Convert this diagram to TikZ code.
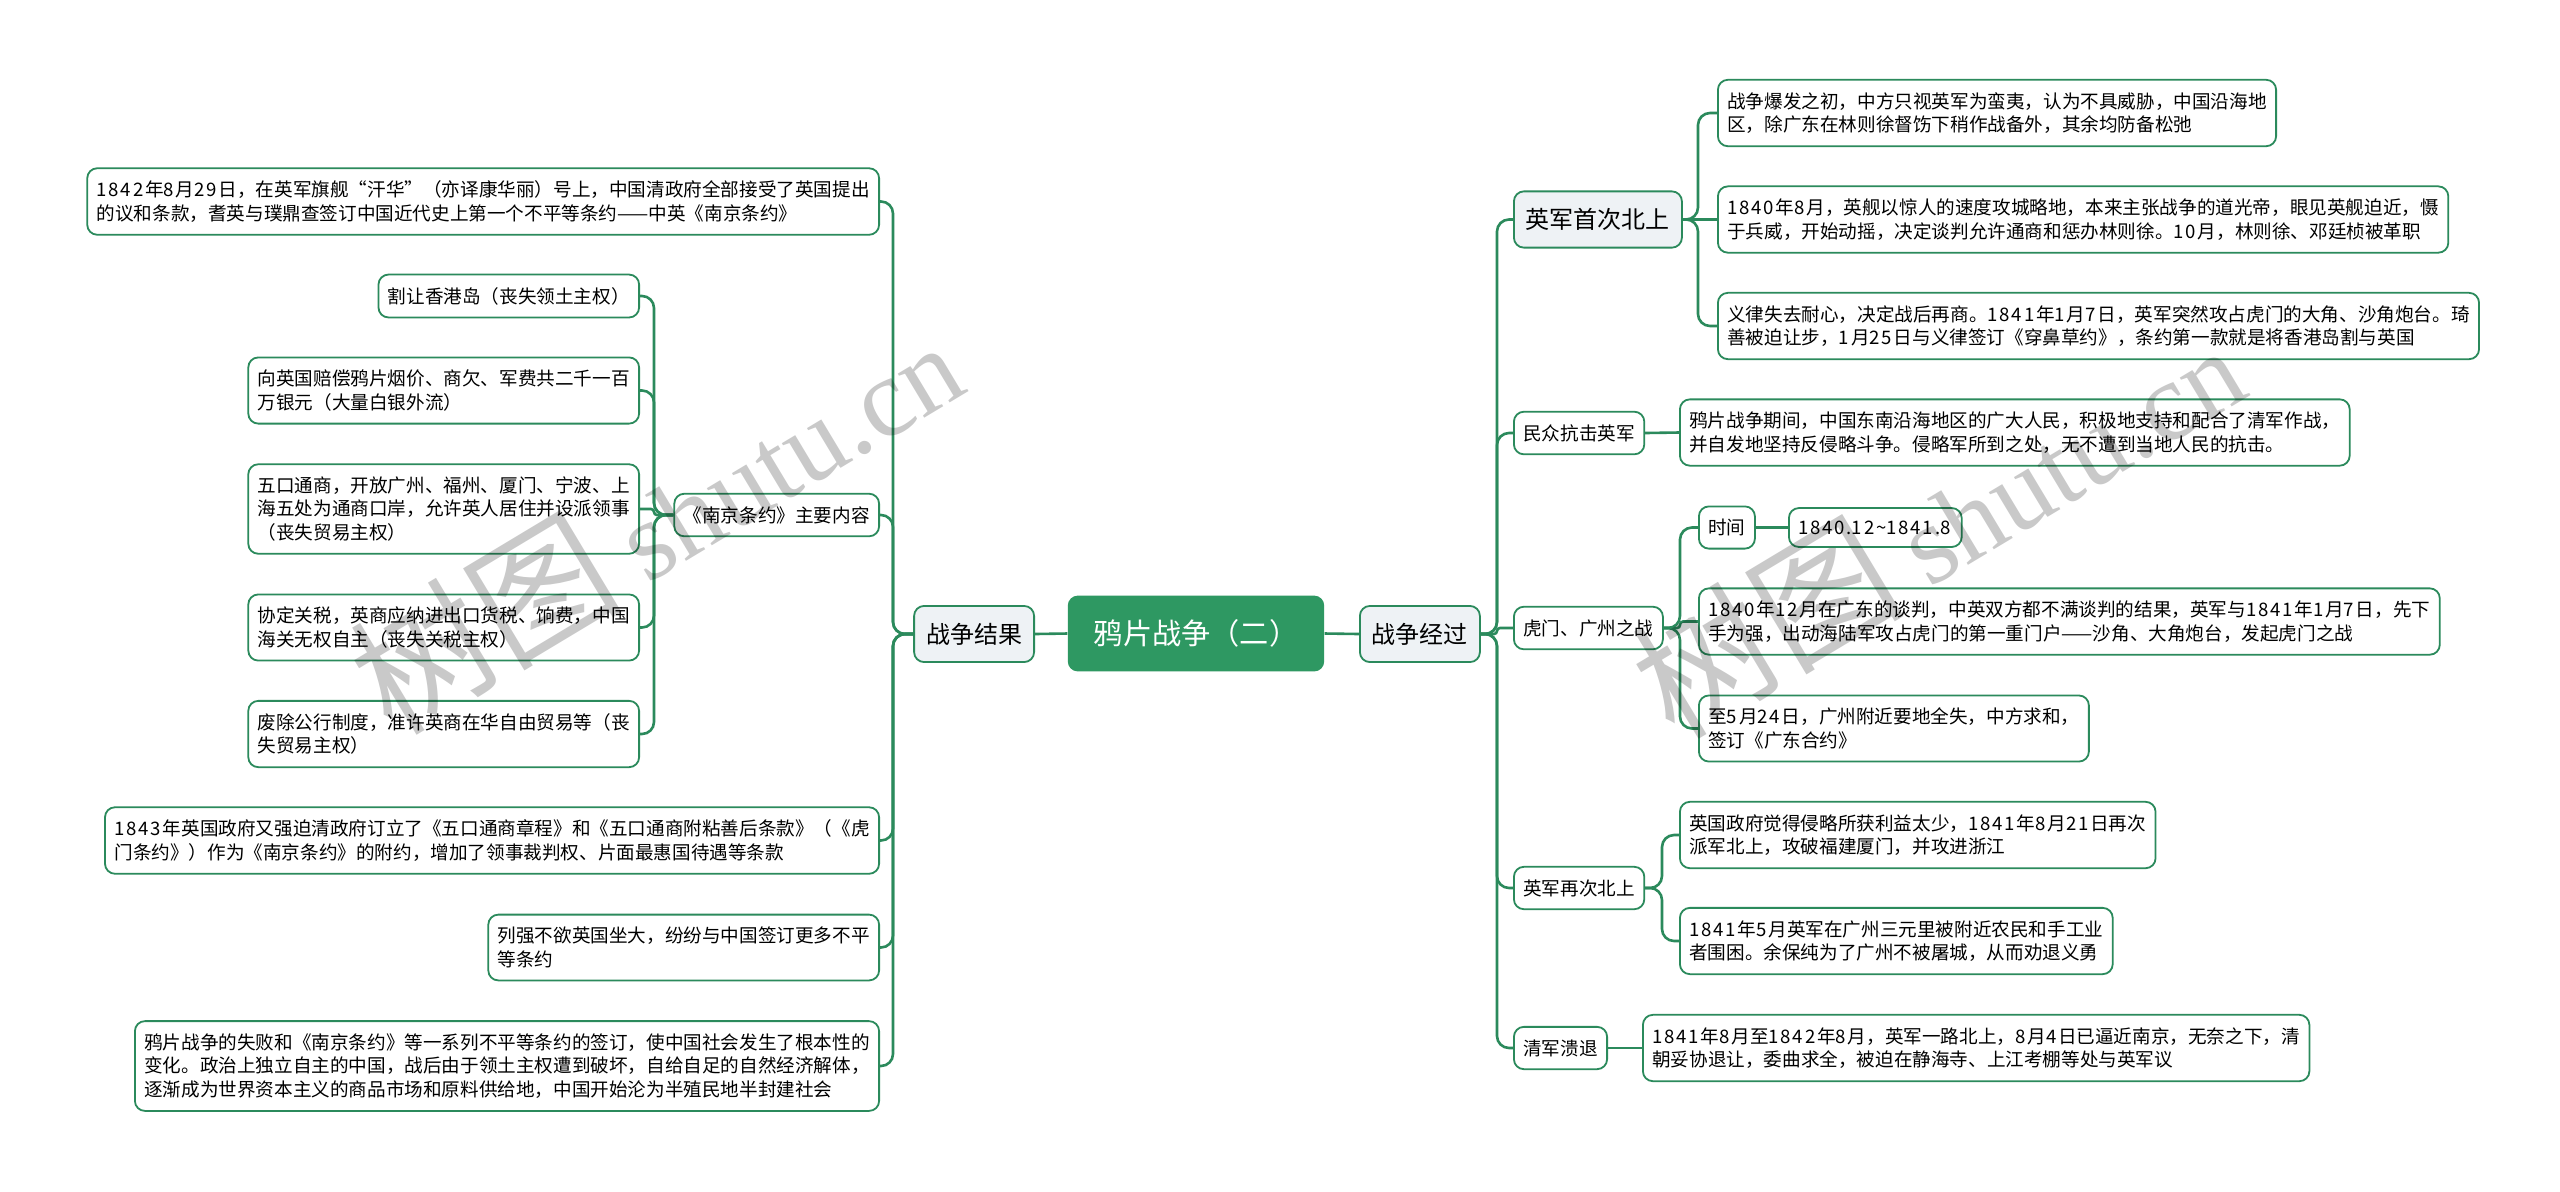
\documentclass[tikz,border=0pt]{standalone}
\usepackage{fontspec}
\setmainfont{Noto Sans CJK SC}
\newfontfamily\wmlatin{Liberation Serif}
\definecolor{mapgreen}{HTML}{2B8A5C}
\definecolor{rootgreen}{HTML}{2E9862}
\definecolor{mainfill}{HTML}{EEF2F5}
\newcommand\bodysize{\fontsize{9.3pt}{11.7pt}\selectfont}
\newcommand\mainsize{\fontsize{12pt}{14pt}\selectfont}
\newcommand\rootsize{\fontsize{14.6pt}{17pt}\selectfont}
% digits a little wider, as in the map
\XeTeXinterchartokenstate=1
\newXeTeXintercharclass\digitclass
\XeTeXcharclass`\0=\digitclass \XeTeXcharclass`\1=\digitclass \XeTeXcharclass`\2=\digitclass
\XeTeXcharclass`\3=\digitclass \XeTeXcharclass`\4=\digitclass \XeTeXcharclass`\5=\digitclass
\XeTeXcharclass`\6=\digitclass \XeTeXcharclass`\7=\digitclass \XeTeXcharclass`\8=\digitclass
\XeTeXcharclass`\9=\digitclass
\XeTeXinterchartoks\digitclass 0={\kern0.9pt}
\XeTeXinterchartoks\digitclass 1={\kern0.9pt}
\XeTeXinterchartoks\digitclass 2={\kern0.9pt}
\XeTeXinterchartoks\digitclass 3={\kern0.9pt}
\XeTeXinterchartoks\digitclass\digitclass={\kern0.9pt}
\XeTeXinterchartoks\digitclass 4095={\kern0.9pt}
\begin{document}
\begin{tikzpicture}[x=0.5pt,y=-0.5pt,
  rootbox/.style={rounded corners=5pt,fill=rootgreen,text=white,font=\rootsize,inner xsep=13pt,inner ysep=12pt},
  mainbox/.style={draw=mapgreen,line width=0.9pt,rounded corners=5pt,fill=mainfill,font=\mainsize,inner xsep=6pt,inner ysep=8.5pt},
  leafbox/.style={draw=mapgreen,line width=0.9pt,rounded corners=5pt,fill=white,font=\bodysize,align=left,inner xsep=4.7pt,inner ysep=6.3pt},
  link/.style={draw=mapgreen,line width=1.3pt,rounded corners=6pt},
  watermark/.style={rotate=31,text=black,text opacity=0.21,font=\fontsize{56pt}{56pt}\selectfont}]

\fill[white] (0,0) rectangle (2560,1191);
\useasboundingbox (0,0) rectangle (2560,1191);

\node[rootbox] (root) at (1196,633.5) {鸦片战争（二）};
\node[mainbox,anchor=east] (jieguo) at (1035,634) {战争结果};
\node[mainbox,anchor=west] (jingguo) at (1359,634) {战争经过};

% 战争结果
\node[leafbox,anchor=east] (tiaoyue) at (880,201.5) {1842年8月29日，在英军旗舰“汗华”（亦译康华丽）号上，中国清政府全部接受了英国提出\\的议和条款，耆英与璞鼎查签订中国近代史上第一个不平等条约——中英《南京条约》};
\node[leafbox,anchor=east] (neirong) at (880,515) {《南京条约》主要内容};
\node[leafbox,anchor=east] (gexiang) at (640,296) {割让香港岛（丧失领土主权）};
\node[leafbox,anchor=east] (peichang) at (640,390.5) {向英国赔偿鸦片烟价、商欠、军费共二千一百\\万银元（大量白银外流）};
\node[leafbox,anchor=east] (tongshang) at (640,509) {五口通商，开放广州、福州、厦门、宁波、上\\海五处为通商口岸，允许英人居住并设派领事\\（丧失贸易主权）};
\node[leafbox,anchor=east] (guanshui) at (640,627.5) {协定关税，英商应纳进出口货税、饷费，中国\\海关无权自主（丧失关税主权）};
\node[leafbox,anchor=east] (gonghang) at (640,734) {废除公行制度，准许英商在华自由贸易等（丧\\失贸易主权）};
\node[leafbox,anchor=east] (fuyue) at (880,840.5) {1843年英国政府又强迫清政府订立了《五口通商章程》和《五口通商附粘善后条款》（《虎\\门条约》）作为《南京条约》的附约，增加了领事裁判权、片面最惠国待遇等条款};
\node[leafbox,anchor=east] (lieqiang) at (880,947.5) {列强不欲英国坐大，纷纷与中国签订更多不平\\等条约};
\node[leafbox,anchor=east] (yingxiang) at (880,1066) {鸦片战争的失败和《南京条约》等一系列不平等条约的签订，使中国社会发生了根本性的\\变化。政治上独立自主的中国，战后由于领土主权遭到破坏，自给自足的自然经济解体，\\逐渐成为世界资本主义的商品市场和原料供给地，中国开始沦为半殖民地半封建社会};

% 战争经过
\node[mainbox,anchor=west] (beishang) at (1513,219.5) {英军首次北上};
\node[leafbox,anchor=west] (chuqi) at (1717,113) {战争爆发之初，中方只视英军为蛮夷，认为不具威胁，中国沿海地\\区，除广东在林则徐督饬下稍作战备外，其余均防备松弛};
\node[leafbox,anchor=west] (bayue) at (1717,219.5) {1840年8月，英舰以惊人的速度攻城略地，本来主张战争的道光帝，眼见英舰迫近，慑\\于兵威，开始动摇，决定谈判允许通商和惩办林则徐。10月，林则徐、邓廷桢被革职};
\node[leafbox,anchor=west] (yilv) at (1717,326) {义律失去耐心，决定战后再商。1841年1月7日，英军突然攻占虎门的大角、沙角炮台。琦\\善被迫让步，1月25日与义律签订《穿鼻草约》，条约第一款就是将香港岛割与英国};
\node[leafbox,anchor=west] (minzhong) at (1513,433) {民众抗击英军};
\node[leafbox,anchor=west] (kangji) at (1679,432.5) {鸦片战争期间，中国东南沿海地区的广大人民，积极地支持和配合了清军作战，\\并自发地坚持反侵略斗争。侵略军所到之处，无不遭到当地人民的抗击。};
\node[leafbox,anchor=west] (humen) at (1513,628) {虎门、广州之战};
\node[leafbox,anchor=west] (shijian) at (1698,527.5) {时间};
\node[leafbox,anchor=west] (qizhi) at (1788,527.5) {1840.12\textasciitilde1841.8};
\node[leafbox,anchor=west] (tanpan) at (1698,621.5) {1840年12月在广东的谈判，中英双方都不满谈判的结果，英军与1841年1月7日，先下\\手为强，出动海陆军攻占虎门的第一重门户——沙角、大角炮台，发起虎门之战};
\node[leafbox,anchor=west] (qiuhe) at (1698,728.5) {至5月24日，广州附近要地全失，中方求和，\\签订《广东合约》};
\node[leafbox,anchor=west] (zaici) at (1513,888) {英军再次北上};
\node[leafbox,anchor=west] (xiamen) at (1679,835) {英国政府觉得侵略所获利益太少，1841年8月21日再次\\派军北上，攻破福建厦门，并攻进浙江};
\node[leafbox,anchor=west] (sanyuanli) at (1679,941) {1841年5月英军在广州三元里被附近农民和手工业\\者围困。余保纯为了广州不被屠城，从而劝退义勇};
\node[leafbox,anchor=west] (kuitui) at (1513,1048) {清军溃退};
\node[leafbox,anchor=west] (yihe) at (1642,1048) {1841年8月至1842年8月，英军一路北上，8月4日已逼近南京，无奈之下，清\\朝妥协退让，委曲求全，被迫在静海寺、上江考棚等处与英军议};

\coordinate (jl) at (893,634);
\coordinate (nl) at (654,515);
\coordinate (jr) at (1497,634);
\coordinate (br) at (1698,219.5);
\coordinate (hr) at (1680,628);
\coordinate (zr) at (1662,888);

\draw[link] (root.west) -- (jieguo.east);
\draw[link] (root.east) -- (jingguo.west);
\foreach \n in {tiaoyue,neirong,fuyue,lieqiang,yingxiang}
  \draw[link] (jieguo.west) -- (jl) |- (\n.east);
\foreach \n in {gexiang,peichang,guanshui,gonghang}
  \draw[link] (neirong.west) -- (nl) |- (\n.east);
\draw[link,rounded corners=1.5pt] (neirong.west) -- (nl) |- (tongshang.east);
\foreach \n in {beishang,minzhong,zaici,kuitui}
  \draw[link] (jingguo.east) -- (jr) |- (\n.west);
\draw[link,rounded corners=1.5pt] (jingguo.east) -- (jr) |- (humen.west);
\foreach \n in {chuqi,yilv}
  \draw[link] (beishang.east) -- (br) |- (\n.west);
\draw[link] (beishang.east) -- (bayue.west);
\draw[link] (minzhong.east) -- (kangji.west);
\foreach \n in {shijian,qiuhe}
  \draw[link] (humen.east) -- (hr) |- (\n.west);
\draw[link,rounded corners=1.5pt] (humen.east) -- (hr) |- (tanpan.west);
\draw[link] (shijian.east) -- (qizhi.west);
\foreach \n in {xiamen,sanyuanli}
  \draw[link] (zaici.east) -- (zr) |- (\n.west);
\draw[link] (kuitui.east) -- (yihe.west);

\node[watermark] (wmleft) at (655,520) {{\fontsize{68pt}{68pt}\selectfont 树图} {\wmlatin shutu.cn}};
\node[watermark] (wmright) at (1937,524) {{\fontsize{68pt}{68pt}\selectfont 树图} {\wmlatin shutu.cn}};

\end{tikzpicture}
\end{document}
